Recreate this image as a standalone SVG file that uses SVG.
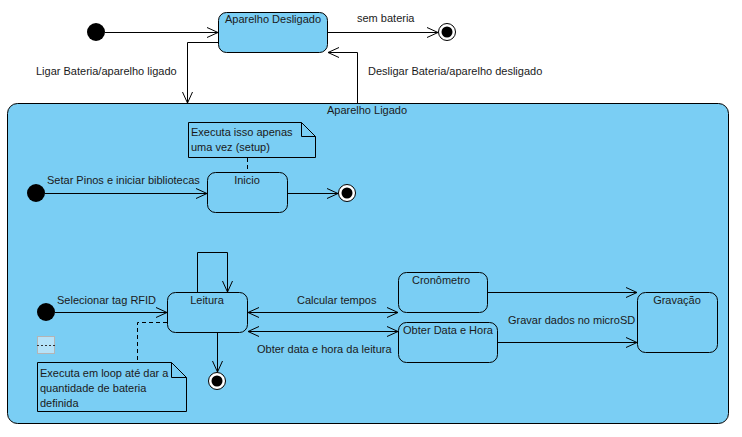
<svg xmlns="http://www.w3.org/2000/svg" width="742" height="437" viewBox="0 0 742 437">
<defs>
<marker id="arr" viewBox="0 0 12 12" refX="11" refY="6" markerWidth="12" markerHeight="12" markerUnits="userSpaceOnUse" orient="auto-start-reverse">
<path d="M0,1 L11,6 L0,11" fill="none" stroke="#000" stroke-width="1"/>
</marker>
</defs>
<style>
text{font-family:"Liberation Sans",Arial,sans-serif;font-size:11px;fill:#1a1a1a}
.st{fill:#7acef4;stroke:#000;stroke-width:1}
.c{text-anchor:middle}
.ln{fill:none;stroke:#000;stroke-width:1}
.a{marker-end:url(#arr)}
.b{marker-start:url(#arr);marker-end:url(#arr)}
.d{fill:none;stroke:#000;stroke-width:1;stroke-dasharray:4,3}
.note{fill:#7acef4;stroke:#000;stroke-width:1}
</style>
<rect width="742" height="437" fill="#fff"/>
<g id="aparelho-ligado">
<rect class="st" x="7.5" y="103.5" width="721" height="320" rx="10"/>
<text class="c" x="367" y="114">Aparelho Ligado</text>
</g>
<g id="aparelho-desligado">
<rect class="st" x="218.5" y="12.5" width="109" height="40" rx="8"/>
<text class="c" x="273" y="23">Aparelho Desligado</text>
</g>
<g id="init-top"><circle cx="96" cy="32" r="9" fill="#000"/></g>
<g id="final-top"><circle cx="447" cy="32" r="8.5" fill="#fff" stroke="#000"/><circle cx="447" cy="32" r="5.5" fill="#000"/></g>
<g id="note-setup">
<path class="note" d="M188.5,122.5 H301.5 L315.5,136.5 V157.5 H188.5 Z"/>
<path class="ln" d="M301.5,122.5 V136.5 H315.5"/>
<text x="191" y="136">Executa isso apenas</text>
<text x="191" y="151">uma vez (setup)</text>
</g>
<g id="inicio">
<rect class="st" x="207.5" y="172.5" width="80" height="40" rx="8"/>
<text class="c" x="247" y="184">Inicio</text>
</g>
<g id="init-inicio"><circle cx="36" cy="193" r="9" fill="#000"/></g>
<g id="final-inicio"><circle cx="347" cy="193" r="8.5" fill="#fff" stroke="#000"/><circle cx="347" cy="193" r="5.5" fill="#000"/></g>
<g id="leitura">
<rect class="st" x="167.5" y="292.5" width="80" height="40" rx="8"/>
<text class="c" x="207" y="304">Leitura</text>
</g>
<g id="init-leitura"><circle cx="46" cy="312" r="9" fill="#000"/></g>
<g id="final-leitura"><circle cx="217" cy="381" r="8.5" fill="#fff" stroke="#000"/><circle cx="217" cy="381" r="5.5" fill="#000"/></g>
<g id="icon">
<rect x="37.5" y="336.5" width="17" height="17" fill="#b5e2f8" stroke="#b4b4b4"/>
<line x1="37" y1="345.5" x2="55" y2="345.5" stroke="#333" stroke-dasharray="2,2"/>
</g>
<g id="note-loop">
<path class="note" d="M37.5,362.5 H171.5 L186.5,377.5 V411.5 H37.5 Z"/>
<path class="ln" d="M171.5,362.5 V377.5 H186.5"/>
<text x="40" y="377">Executa em loop até dar a</text>
<text x="40" y="392">quantidade de bateria</text>
<text x="40" y="407">definida</text>
</g>
<g id="cronometro">
<rect class="st" x="398.5" y="272.5" width="89" height="40" rx="8"/>
<text class="c" x="441" y="284">Cronômetro</text>
</g>
<g id="obter-data-hora">
<rect class="st" x="398.5" y="322.5" width="99" height="40" rx="8"/>
<text class="c" x="448" y="334">Obter Data e Hora</text>
</g>
<g id="gravacao">
<rect class="st" x="637.5" y="292.5" width="80" height="60" rx="8"/>
<text class="c" x="677" y="304">Gravação</text>
</g>
<g id="connectors">
<line class="ln a" x1="105" y1="32.5" x2="218" y2="32.5"/>
<line class="ln a" x1="327" y1="32.5" x2="438" y2="32.5"/>
<text x="357" y="22">sem bateria</text>
<polyline class="ln a" points="218,42.5 187.5,42.5 187.5,103"/>
<text x="36" y="75">Ligar Bateria/aparelho ligado</text>
<polyline class="ln a" points="357.5,103 357.5,52.5 328,52.5"/>
<text x="368" y="75">Desligar Bateria/aparelho desligado</text>
<line class="d" x1="247.5" y1="158" x2="247.5" y2="172"/>
<line class="ln a" x1="45" y1="193.5" x2="207" y2="193.5"/>
<text x="47" y="184">Setar Pinos e iniciar bibliotecas</text>
<line class="ln a" x1="288" y1="193.5" x2="338" y2="193.5"/>
<polyline class="ln a" points="197.5,292 197.5,252.5 227.5,252.5 227.5,292"/>
<line class="ln a" x1="55" y1="312.5" x2="167" y2="312.5"/>
<text x="57" y="304">Selecionar tag RFID</text>
<polyline class="d" points="167,322.5 137.5,322.5 137.5,362"/>
<line class="ln a" x1="217.5" y1="333" x2="217.5" y2="372"/>
<line class="ln b" x1="248" y1="312.5" x2="398" y2="312.5"/>
<text x="297" y="304">Calcular tempos</text>
<line class="ln b" x1="248" y1="331.5" x2="398" y2="331.5"/>
<text x="257" y="353">Obter data e hora da leitura</text>
<line class="ln a" x1="488" y1="292.5" x2="637" y2="292.5"/>
<line class="ln a" x1="498" y1="342.5" x2="637" y2="342.5"/>
<text x="508" y="324">Gravar dados no microSD</text>
</g>
</svg>
